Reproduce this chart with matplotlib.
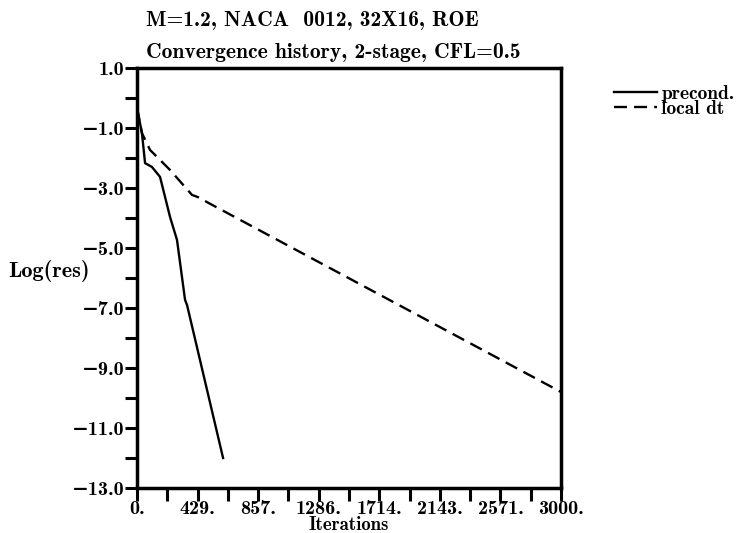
import matplotlib
matplotlib.use('Agg')
import matplotlib.pyplot as plt

# convergence history (iteration, log10 residual)
precond_it = [0, 35, 57, 106, 163, 234, 283, 340, 354, 609]
precond_res = [-0.33, -1.17, -2.17, -2.3, -2.63, -3.97, -4.73, -6.73, -6.9, -12.0]

localdt_it = [0, 35, 92, 234, 389, 446, 495, 3000]
localdt_res = [-0.33, -1.17, -1.73, -2.4, -3.23, -3.33, -3.47, -9.8]

xticks = [0, 3000/7, 6000/7, 9000/7, 12000/7, 15000/7, 18000/7, 3000]
yticks = [1, -1, -3, -5, -7, -9, -11, -13]

plt.rcParams['font.family'] = ['cmb10', 'DejaVu Serif']
plt.rcParams['font.weight'] = 'bold'

fig = plt.figure(figsize=(7.41, 5.33), dpi=100)
ax = fig.add_axes([137/741, 1 - 488/533, 424/741, 420/533])

ax.plot(precond_it, precond_res, color='black', lw=1.7, label='precond.')
ax.plot(localdt_it, localdt_res, color='black', lw=1.7, ls=(0, (5.5, 3)), label='local dt')

ax.set_xlim(0, 3000)
ax.set_ylim(-13, 1)

ax.set_xticks(xticks)
ax.set_xticklabels(['%d.' % round(v) for v in xticks])
ax.set_xticks([v + 1500/7 for v in xticks[:-1]], minor=True)
ax.set_yticks(yticks)
ax.set_yticklabels(['%.1f' % v if v > 0 else '\u2212%.1f' % abs(v) for v in yticks])
ax.set_yticks([0, -2, -4, -6, -8, -10, -12], minor=True)

ax.tick_params(which='both', direction='out', length=9, width=2.2, labelsize=14.5, pad=0)
ax.tick_params(axis='x', pad=0)
for s in ax.spines.values():
    s.set_linewidth(2.5)

fig.text(349/741, 1 - 525/533, 'Iterations', fontsize=13.5, va='center', ha='center')
fig.text(8/741, 1 - 271/533, 'Log(res)', fontsize=16, va='center', ha='left')

fig.text(146/741, 1 - 20/533, 'M=1.2, NACA  0012, 32X16, ROE', fontsize=15.5, va='center', ha='left')
fig.text(146/741, 1 - 53/533, 'Convergence history, 2-stage, CFL=0.5', fontsize=15.5, va='center', ha='left')

fig.legend(loc='upper left', bbox_to_anchor=(604/741, 1 - 75/533), frameon=False,
           handlelength=2.2, handletextpad=0.25, labelspacing=-0.15, borderpad=0,
           prop={'size': 14})

fig.savefig('out.png', dpi=100)
